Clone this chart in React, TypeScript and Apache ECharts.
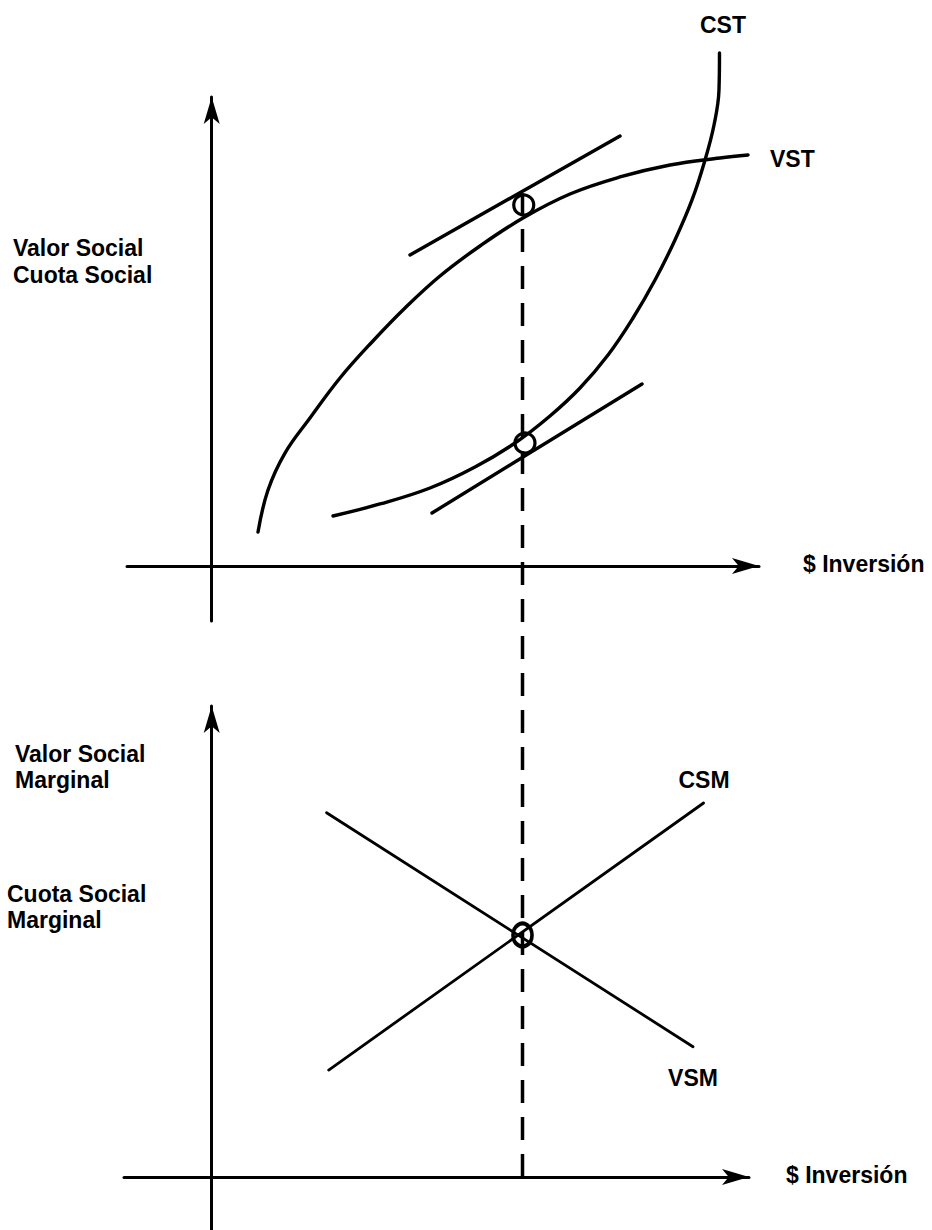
import React, { useEffect, useRef } from "react";
import * as echarts from "echarts";

// ---- Upper panel: total values (x = $ Inversión, y = value / cost) ----
const VST: number[][] = [
  [0.745, 0.652], [0.906, 1.458], [1.179, 2.168], [1.581, 2.84], [2.064, 3.608],
  [2.579, 4.299], [3.11, 4.951], [3.673, 5.565], [4.316, 6.141], [5.008, 6.678],
  [5.764, 7.139], [6.569, 7.465], [7.373, 7.695], [8.177, 7.83], [8.628, 7.887],
];
const CST: number[][] = [
  [1.951, 0.96], [2.708, 1.19], [3.512, 1.497], [4.236, 1.9], [4.879, 2.36],
  [5.442, 2.879], [5.925, 3.416], [6.376, 4.049], [6.778, 4.759], [7.132, 5.488],
  [7.453, 6.256], [7.727, 7.024], [7.936, 7.791], [8.081, 8.463], [8.161, 9.135],
  [8.169, 9.845],
];
const VST_TANGENT: number[][] = [[3.19, 5.968], [6.569, 8.252]];
const CST_TANGENT: number[][] = [[3.544, 1.017], [6.923, 3.493]];
const TOP_TANGENCY_POINTS: number[][] = [[5.02, 6.928], [5.04, 2.36]];

// ---- Lower panel: marginal values ----
const VSM: number[][] = [[1.848, 6.991], [7.743, 2.5]];
const CSM: number[][] = [[1.882, 2.053], [7.913, 7.177]];
const EQUILIBRIUM: number[][] = [[5, 4.644]];
// vertical guide at the optimal investment, from the lower x axis up to the VST tangency
const OPTIMUM_GUIDE: number[][] = [[5, 0], [5, 18.88]];

// ---- Texts ----
const X_AXIS_NAME = "$ Inversión";
const TOP_Y_NAME = ["Valor Social", "Cuota Social"];
const BOTTOM_Y_NAME_1 = ["Valor Social", "Marginal"];
const BOTTOM_Y_NAME_2 = ["Cuota Social", "Marginal"];
const CURVE_NAMES = ["CST", "VST", "CSM", "VSM"];

const FONT = 'bold 23px "Liberation Sans", Arial, Helvetica, sans-serif';

function txt(text: string, x: number, y: number, align: string = "left") {
  return {
    type: "text",
    x,
    y,
    silent: true,
    style: {
      text,
      font: FONT,
      fill: "#000",
      textAlign: align,
      textVerticalAlign: "middle",
      align,
      verticalAlign: "middle",
    },
  };
}

export default function App() {
  const ref = useRef<HTMLDivElement>(null);

  useEffect(() => {
    const chart = echarts.init(ref.current!, null, { renderer: "svg" });

    const axisLine = {
      show: true,
      onZero: true,
      lineStyle: { color: "#000", width: 3 },
      symbol: ["none", "arrow"],
      symbolSize: [12, 27],
    };
    const hidden = {
      axisTick: { show: false },
      axisLabel: { show: false },
      splitLine: { show: false },
    };
    const curve = (
      name: string,
      data: number[][],
      idx: number,
      width: number,
      smooth: number | boolean = false
    ) => ({
      type: "line",
      name,
      xAxisIndex: idx,
      yAxisIndex: idx,
      data,
      smooth,
      symbol: "none",
      showSymbol: false,
      clip: false,
      silent: true,
      z: 3,
      lineStyle: { color: "#000", width, cap: "round", join: "round", opacity: 1 },
    });
    const ring = (data: number[][], idx: number, size: any, bw: number) => ({
      type: "scatter",
      xAxisIndex: idx,
      yAxisIndex: idx,
      data,
      symbol: "circle",
      symbolSize: size,
      clip: false,
      silent: true,
      z: 5,
      itemStyle: { color: "rgba(0,0,0,0)", borderColor: "#000", borderWidth: bw, opacity: 1 },
    });

    const option: any = {
      animation: false,
      backgroundColor: "#fff",
      grid: [
        { left: 127, right: 173, top: 97, bottom: 609 },
        { left: 124, right: 183, top: 706, bottom: 0 },
      ],
      xAxis: [
        { type: "value", gridIndex: 0, min: -1.3626, max: 8.8047, axisLine, ...hidden },
        { type: "value", gridIndex: 1, min: -1.4109, max: 8.6438, axisLine, ...hidden },
      ],
      yAxis: [
        { type: "value", gridIndex: 0, min: -1.0555, max: 9, axisLine, ...hidden },
        { type: "value", gridIndex: 1, min: -1.0171, max: 9.0386, axisLine, ...hidden },
      ],
      series: [
        curve("VST", VST, 0, 3.4, 0.4),
        curve("CST", CST, 0, 3.4, 0.4),
        curve("VST tangente", VST_TANGENT, 0, 3.4),
        curve("CST tangente", CST_TANGENT, 0, 3.4),
        ring(TOP_TANGENCY_POINTS, 0, 20, 3.2),
        curve("VSM", VSM, 1, 2.8),
        curve("CSM", CSM, 1, 2.8),
        {
          type: "line",
          name: "óptimo",
          xAxisIndex: 1,
          yAxisIndex: 1,
          data: OPTIMUM_GUIDE,
          symbol: "none",
          showSymbol: false,
          clip: false,
          silent: true,
          z: 4,
          lineStyle: { color: "#000", width: 3.5, type: [23, 14], cap: "butt", opacity: 1 },
        },
        ring(EQUILIBRIUM, 1, [19, 23], 4),
      ],
      graphic: [
        txt(CURVE_NAMES[0], 723, 25, "center"),
        txt(CURVE_NAMES[1], 770, 159),
        txt(X_AXIS_NAME, 803, 564),
        txt(TOP_Y_NAME[0], 13, 248),
        txt(TOP_Y_NAME[1], 13, 275),
        txt(BOTTOM_Y_NAME_1[0], 15, 754),
        txt(BOTTOM_Y_NAME_1[1], 15, 780),
        txt(BOTTOM_Y_NAME_2[0], 7, 894),
        txt(BOTTOM_Y_NAME_2[1], 7, 920),
        txt(CURVE_NAMES[2], 704, 780, "center"),
        txt(CURVE_NAMES[3], 693, 1078, "center"),
        txt(X_AXIS_NAME, 786, 1175),
      ],
    };

    chart.setOption(option);
    return () => chart.dispose();
  }, []);

  return (
    <div
      ref={ref}
      style={{ position: "absolute", left: 0, top: 0, width: 932, height: 1230, background: "#fff" }}
    />
  );
}
